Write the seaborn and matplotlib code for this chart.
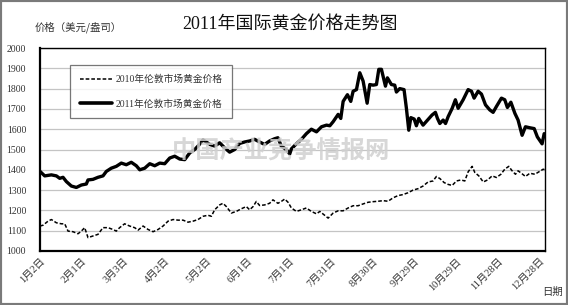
import matplotlib
matplotlib.use("Agg")
import matplotlib.pyplot as plt
import seaborn as sns
import pandas as pd
from matplotlib.patches import Rectangle
from matplotlib.lines import Line2D

# ---- data (day offset from Jan 2, price USD/oz) ----
days_2011 = [0, 3.4, 8.2, 11.8, 14.2, 16.6, 19, 22.6, 26.2, 29.8, 33.4, 34.6, 38.2, 41.8, 45.4, 47.8, 51.4, 55, 58.6,
             62.2, 65.8, 69.4, 71.9, 75.5, 79.1, 82.7, 86.3, 89.9, 93.5, 97.1, 100.7, 104.3, 107.9, 111.5, 113.9, 117.5,
             119.9, 122.3, 125.9, 129.5, 133.1, 136.7, 140.3, 143.9, 147.5, 151.1, 154.7, 158.3, 161.9, 165.5, 169.1,
             171.5, 173.9, 177.5, 180, 181.2, 184.8, 188.4, 192, 195.6, 199.3, 202.9, 206.5, 208.9, 211.3, 214.9, 216.8,
             218.5, 221.6, 224, 225.7, 228.1, 230.5, 232.9, 235.8, 237.7, 240.1, 242.5, 244.2, 246.1, 249, 250.4, 253.3,
             255.7, 256.9, 259.3, 262.4, 264.1, 265.8, 267.3, 269.7, 271.3, 273, 276.1, 279.3, 282.6, 285, 286.5, 288.2,
             290.6, 292.3, 294.2, 297.1, 299.4, 301.4, 305, 308.6, 311, 312.9, 315.8, 318.2, 321.1, 324.2, 326.6, 329,
             332.6, 335, 336.9, 339.4, 342.3, 344.6, 347.5, 349.9, 353.1, 356.2, 358.5, 361.9, 363.4]
price_2011 = [1392, 1370, 1375, 1370, 1358, 1363, 1342, 1320, 1313, 1325, 1330, 1350, 1353, 1363, 1370, 1392, 1408, 1417,
              1433, 1425, 1437, 1420, 1400, 1408, 1430, 1420, 1433, 1430, 1458, 1467, 1453, 1450, 1483, 1500, 1517, 1547,
              1537, 1525, 1517, 1533, 1508, 1487, 1500, 1530, 1537, 1542, 1550, 1537, 1525, 1542, 1553, 1558, 1517, 1500,
              1478, 1503, 1528, 1550, 1578, 1600, 1587, 1612, 1620, 1617, 1637, 1673, 1653, 1737, 1770, 1737, 1787, 1795,
              1878, 1837, 1728, 1820, 1817, 1820, 1895, 1895, 1812, 1853, 1820, 1817, 1783, 1800, 1795, 1703, 1595, 1657,
              1650, 1617, 1653, 1620, 1645, 1670, 1683, 1653, 1628, 1645, 1628, 1662, 1703, 1745, 1703, 1745, 1795, 1787,
              1753, 1787, 1773, 1720, 1695, 1683, 1712, 1753, 1745, 1707, 1733, 1678, 1645, 1570, 1612, 1607, 1603, 1562,
              1528, 1578]

days_2010 = [0, 2.2, 5.8, 8.2, 11.8, 15.4, 17.8, 20.2, 23.8, 27.4, 29.8, 32.2, 34.6, 38.2, 41.8, 45.4, 49, 52.6, 55,
             57.4, 61, 64.6, 68.2, 70.7, 74.3, 77.9, 81.5, 85.1, 88.7, 92.3, 95.9, 99.5, 103.1, 106.7, 110.3, 113.9,
             117.5, 121.1, 123.5, 125.9, 129.5, 131.9, 134.3, 137.9, 141.5, 145.1, 148.7, 151.1, 153.6, 155.9, 158.3,
             161.9, 165.5, 167.9, 171.5, 173.9, 176.4, 178.8, 181.2, 184.8, 188.4, 192, 195.6, 199.3, 201.7, 204.8,
             207.7, 211.3, 214.9, 218.5, 222.1, 225.7, 229.3, 232.9, 236.5, 240.1, 243.7, 247.3, 250.9, 254.5, 258.1,
             261.7, 265.3, 268.9, 272.5, 276.1, 279.7, 283.3, 285.7, 288.2, 291.3, 294.2, 297.1, 300.2, 303.4, 306.2,
             308.6, 311.5, 313.4, 316.3, 319.5, 322.6, 325.9, 329, 332.2, 335, 337.9, 340.3, 342.7, 344.6, 347, 349.9,
             353.1, 356.7, 359.6, 362.7, 363.9]
price_2010 = [1123, 1127, 1147, 1155, 1139, 1134, 1134, 1098, 1095, 1085, 1098, 1115, 1066, 1074, 1082, 1115, 1115, 1106,
              1098, 1115, 1134, 1123, 1115, 1103, 1123, 1106, 1095, 1106, 1123, 1147, 1155, 1152, 1152, 1142, 1147, 1155,
              1171, 1176, 1171, 1203, 1227, 1235, 1219, 1187, 1195, 1208, 1219, 1203, 1219, 1244, 1224, 1227, 1235, 1252,
              1235, 1244, 1256, 1240, 1212, 1195, 1203, 1212, 1195, 1183, 1195, 1178, 1162, 1187, 1198, 1198, 1212, 1223,
              1223, 1232, 1240, 1243, 1245, 1248, 1245, 1262, 1273, 1278, 1287, 1300, 1307, 1320, 1340, 1345, 1367, 1357,
              1337, 1328, 1323, 1345, 1350, 1345, 1390, 1417, 1387, 1370, 1340, 1350, 1370, 1362, 1378, 1403, 1417, 1395,
              1378, 1395, 1383, 1367, 1383, 1378, 1390, 1403, 1400]

tick_days = [0, 30, 60, 90, 120, 150, 180, 210, 240, 270, 300, 330, 360]
tick_labels = ["1月2日", "2月1日", "3月3日", "4月2日", "5月2日", "6月1日", "7月1日", "7月31日",
               "8月30日", "9月29日", "10月29日", "11月28日", "12月28日"]
y_ticks = [1000, 1100, 1200, 1300, 1400, 1500, 1600, 1700, 1800, 1900, 2000]
label_2010 = "2010年伦敦市场黄金价格"
label_2011 = "2011年伦敦市场黄金价格"

sns.set_style("white")
FAM = ["Liberation Serif", "Noto Sans CJK SC", "DejaVu Sans"]
plt.rcParams["font.family"] = FAM

fig = plt.figure(figsize=(5.68, 3.05), dpi=100)
ax = fig.add_axes([40 / 568, 1 - 251 / 305, (545 - 40) / 568, (251 - 48) / 305])

df10 = pd.DataFrame({"day": days_2010, "price": price_2010})
df11 = pd.DataFrame({"day": days_2011, "price": price_2011})

sns.lineplot(data=df10, x="day", y="price", ax=ax, color="black", linewidth=1.1,
             linestyle=(0, (2.4, 1.3)), zorder=3)
sns.lineplot(data=df11, x="day", y="price", ax=ax, color="black", linewidth=2.4, zorder=3)

ax.set_xlim(0, 364)
ax.set_ylim(1000, 2000)
ax.set_yticks(y_ticks)
ax.set_xticks(tick_days)
ax.set_xticklabels(tick_labels, rotation=45, ha="right", rotation_mode="anchor",
                   fontsize=7.5, color="#333333", family=["Liberation Serif", "Noto Sans CJK SC"])
ax.tick_params(axis="x", direction="in", length=4, width=0.8, color="#555555", pad=4)
ax.tick_params(axis="y", length=0, labelsize=7, labelcolor="#333333", pad=10)
ax.set_xlabel("")
ax.set_ylabel("")
ax.grid(axis="y", color="#c4c4c4", linewidth=0.9)
ax.set_axisbelow(True)
for s in ax.spines.values():
    s.set_color("black")
    s.set_linewidth(1.0)
ax.spines["left"].set_linewidth(1.6)
ax.spines["bottom"].set_linewidth(1.6)

handles = [Line2D([], [], color="black", linewidth=1.1, linestyle=(0, (2.4, 1.3))),
           Line2D([], [], color="black", linewidth=2.6)]
leg = ax.legend(handles, [label_2010, label_2011], loc="upper left",
                bbox_to_anchor=((70 - 40) / 505, 1 - (65 - 48) / 203), frameon=True, fancybox=False,
                borderaxespad=0, handlelength=3.3, handletextpad=0.35, labelspacing=1.55,
                borderpad=1.0, prop={"family": ["Liberation Serif", "Noto Sans CJK SC"], "size": 7})
leg.get_frame().set_edgecolor("#555555")
leg.get_frame().set_linewidth(0.9)
for t in leg.get_texts():
    t.set_color("#333333")

# watermark
ax.text(0.478, 0.49, "中国产业竞争情报网", transform=ax.transAxes, ha="center", va="center",
        fontsize=17.5, fontweight="bold", color="#d0d0d0", alpha=0.85, zorder=5,
        family=["Noto Sans CJK SC"])

fig.text(290 / 568, 1 - 25 / 305, "2011年国际黄金价格走势图", ha="center", va="center",
         fontsize=13, color="#111111", family=FAM)
fig.text(35 / 568, 1 - 27 / 305, "价格（美元/盎司）", ha="left", va="center",
         fontsize=7.5, color="#333333", family=["Noto Sans CJK SC"])
fig.text(553 / 568, 1 - 292 / 305, "日期", ha="center", va="center",
         fontsize=7.5, color="#333333", family=["Noto Sans CJK SC"])

fig.patches.append(Rectangle((0, 0), 1, 1, transform=fig.transFigure, fill=False,
                             edgecolor="#7a7a7a", linewidth=3))

fig.savefig("out.png", dpi=100)
